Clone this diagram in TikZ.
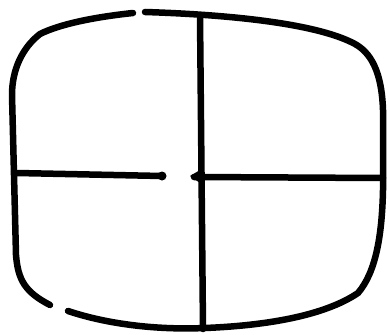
\documentclass[tikz,border=0pt]{standalone}
\begin{document}
\begin{tikzpicture}[x=1pt,y=-1pt,
  stroke/.style={line width=6.5pt,line cap=round,line join=round,black}]
\useasboundingbox (0,0) rectangle (390,334);
% outline, left part
\draw[stroke] (133,13) .. controls (95,17) and (60,24) .. (40,34)
  .. controls (22,48) and (12,70) .. (12,95) -- (16,255)
  .. controls (18,280) and (25,292) .. (50,305);
% outline, right and bottom part
\draw[stroke] (68,311) .. controls (110,325) and (160,330) .. (205,328)
  .. controls (280,325) and (330,312) .. (358,293)
  .. controls (376,272) and (382,235) .. (383,190) -- (383,110)
  .. controls (382,80) and (375,55) .. (355,44)
  .. controls (320,25) and (240,15) .. (145,12);
% cross
\coordinate (vt) at (200,16);
\coordinate (vb) at (203,329);
\draw[stroke] (vt) -- (vb);
\coordinate (hl1) at (17,173);
\coordinate (hl2) at (162,176);
\draw[stroke] (hl1) -- (hl2);
\fill (hl2) circle (4.5pt);
\coordinate (hr1) at (194,177);
\coordinate (hr2) at (383,178);
\draw[stroke] (hr1) -- (hr2);
\fill (190,176) -- (200,170) -- (200,183) -- cycle;
\end{tikzpicture}
\end{document}
